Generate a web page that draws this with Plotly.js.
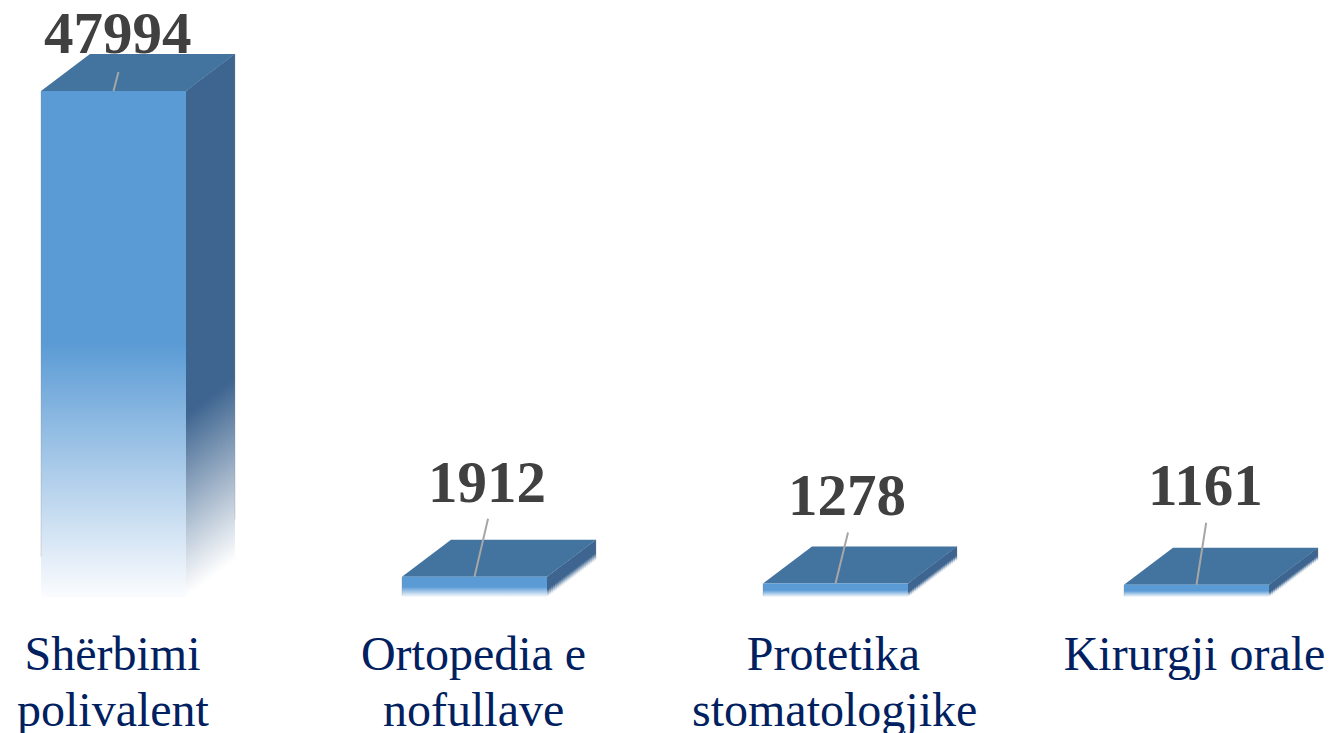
<!DOCTYPE html>
<html>
<head>
<meta charset="utf-8">
<script src="https://cdn.plot.ly/plotly-3.0.1.min.js"></script>
<style>html,body{margin:0;padding:0;background:#fff}</style>
</head>
<body>
<div id="chart" style="width:1333px;height:733px"></div>
<script>
const categoryLine1 = ["Shërbimi", "Ortopedia e", "Protetika", "Kirurgji orale"];
const categoryLine2 = ["polivalent", "nofullave", "stomatologjike", ""];
const values = [47994, 1912, 1278, 1161];
const valueLabels = ["47994", "1912", "1278", "1161"];
// leader line end and label centre, in pixels from each bar's top-front midpoint
const leaderDx = [5.5, 14, 13, 10];
const leaderDy = [-21, -60, -53, -64];
const labelDx = [4.5, 12.5, 11.5, 8.5];
const labelDy = [58, 95, 89, 100];
const line1ShiftPx = [-1, -1, -2, -2];
const line2ShiftPx = [0, -1, -1.5, 0];

const W = 1333, H = 733, bottom = 136;
const pxX = 361, x0px = 113.5;
const pxY = 506 / 47994;
const xRange = [-x0px / pxX, (W - x0px) / pxX];
const yRange = [0, (H - bottom) / pxY];
const halfW = 72.5 / pxX, depthX = 49 / pxX, depthY = 37 / pxY;

const frontScale = [[0, '#fbfcfe'], [0.5, '#5b9bd5'], [1, '#5b9bd5']];
const sideScale = [[0, '#ffffff'], [0.36, '#3e6590'], [1, '#3e6590']];
const poly = (xs, ys) => ({type:'scatter', mode:'lines', x:xs.concat(xs[0]), y:ys.concat(ys[0]),
  fill:'toself', line:{width:0}, hoverinfo:'skip', showlegend:false, cliponaxis:false});
const edge = (xs, ys) => ({type:'scatter', mode:'lines', x:xs, y:ys, hoverinfo:'skip', showlegend:false,
  cliponaxis:false, line:{width:1, color:'rgba(128,128,128,0.28)'}});

const traces = [];
const STRIPS = 24;
values.forEach((v, i) => {
  const l = i - halfW, r = i + halfW;
  // side face: thin overlapping strips so the fade follows the slant of the face
  for (let k = 0; k < STRIPS; k++) {
    const a = k / STRIPS, b = Math.min(1, (k + 2) / STRIPS), m = (2 * k + 1) / (2 * STRIPS);
    const s = poly(
      [r + a * depthX, r + b * depthX, r + b * depthX, r + a * depthX],
      [a * depthY, b * depthY, v + b * depthY, v + a * depthY]);
    s.fillgradient = {type:'vertical', colorscale:sideScale, start:m * depthY, stop:v + m * depthY};
    traces.push(s);
  }
  // top face
  const t = poly([l, r, r + depthX, l + depthX], [v, v, v + depthY, v + depthY]);
  t.fillcolor = '#43739f';
  traces.push(t);
  // front face
  const f = poly([l, r, r, l], [0, 0, v, v]);
  f.fillgradient = {type:'vertical', colorscale:frontScale, start:0, stop:v};
  traces.push(f);
  // faint edges of the bar
  traces.push(edge([l, l], [v * 0.08, v]));
  traces.push(edge([r + depthX, r + depthX], [depthY + v * 0.08, depthY + v]));
});

const annotations = [];
values.forEach((v, i) => {
  annotations.push({x:i, y:v, xref:'x', yref:'y', text:' ', showarrow:true, arrowhead:0, standoff:0,
    arrowwidth:2, arrowcolor:'#a6a6a6', ax:leaderDx[i], ay:leaderDy[i], font:{size:1}});
  annotations.push({x:i, y:v, xref:'x', yref:'y', text:valueLabels[i], showarrow:false,
    xshift:labelDx[i], yshift:labelDy[i], xanchor:'center', yanchor:'middle',
    font:{family:'"Liberation Serif"', size:59, color:'#404040', weight:700}});
  if (categoryLine2[i]) annotations.push({x:i, y:0, xref:'x', yref:'paper', text:categoryLine2[i], showarrow:false,
    xshift:line2ShiftPx[i], yshift:-112, xanchor:'center', yanchor:'middle',
    font:{family:'"Liberation Serif"', size:48, color:'#002060'}});
});

const layout = {
  width:W, height:H, margin:{l:0, r:0, t:0, b:bottom, pad:0},
  paper_bgcolor:'#fff', plot_bgcolor:'#fff', showlegend:false,
  font:{family:'"Liberation Serif"'},
  xaxis:{range:xRange, tickmode:'array', tickvals:line1ShiftPx.map((s, i) => i + s / pxX), ticktext:categoryLine1, showgrid:false,
    zeroline:false, showline:false, ticks:'', ticklabelstandoff:24, tickangle:0, automargin:false,
    tickfont:{family:'"Liberation Serif"', size:48, color:'#002060'}},
  yaxis:{range:yRange, visible:false, showgrid:false, zeroline:false, automargin:false},
  annotations
};
Plotly.newPlot('chart', traces, layout, {displayModeBar:false, staticPlot:true});
</script>
</body>
</html>
